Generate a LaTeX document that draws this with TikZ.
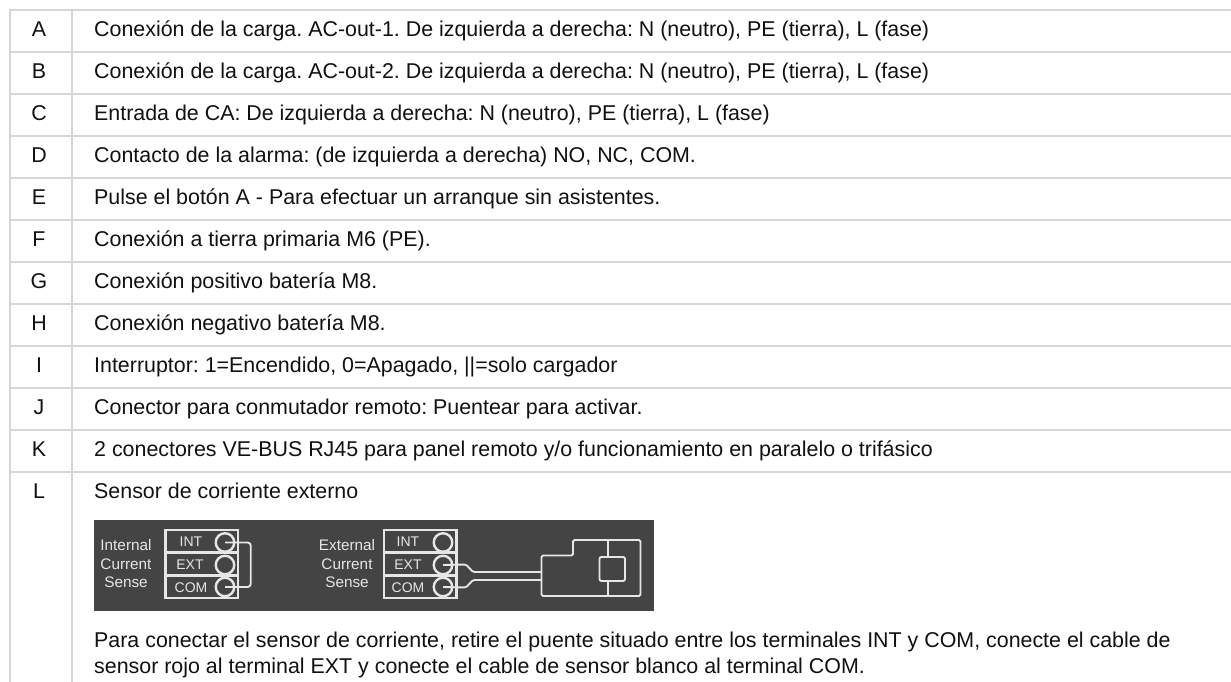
\documentclass[tikz,border=0pt]{standalone}
\usepackage{fontspec}
\setmainfont{Liberation Sans}
\definecolor{rule}{HTML}{D6D6D6}
\definecolor{panel}{HTML}{444444}
\definecolor{ink}{HTML}{E6E6E6}
\definecolor{txt}{HTML}{111111}
\tikzset{
  gridline/.style={draw=rule,line width=2pt},
  keylabel/.style={anchor=base,inner sep=0pt,text=txt,font=\fontsize{21.4}{25}\selectfont},
  rowtext/.style={anchor=base west,inner sep=0pt,text=txt,font=\fontsize{21.4}{25}\selectfont\frenchspacing},
  wire/.style={draw=ink,line width=1.9pt,line join=round,rounded corners=1.5pt},
  frame/.style={draw=ink,line width=2.8pt},
  term/.style={draw=ink,line width=2.4pt,circle,minimum size=18.5pt,inner sep=0pt},
  tlabel/.style={text=ink,inner sep=0pt,anchor=base,font=\fontsize{14}{15}\selectfont},
  sidelabel/.style={text=ink,inner sep=0pt,anchor=base,font=\fontsize{15.3}{17}\selectfont}
}
\begin{document}
\begin{tikzpicture}[x=1pt,y=-1pt]
\useasboundingbox (0,0) rectangle (1231,682);
\fill[white] (0,0) rectangle (1231,682);
% table grid
\foreach \y in {10,52,94,136,178,220,262,304,346,388,430,472}
  \draw[gridline] (9,\y) -- (1231,\y);
\draw[gridline] (9.5,9) -- (9.5,682);
\draw[gridline] (71.5,9) -- (71.5,682);
% rows
\foreach \k/\t [count=\i from 0] in {
 A/{Conexión de la carga. AC-out-1. De izquierda a derecha: N (neutro), PE (tierra), L (fase)},
 B/{Conexión de la carga. AC-out-2. De izquierda a derecha: N (neutro), PE (tierra), L (fase)},
 C/{Entrada de CA: De izquierda a derecha: N (neutro), PE (tierra), L (fase)},
 D/{Contacto de la alarma: (de izquierda a derecha) NO, NC, COM.},
 E/{Pulse el botón A - Para efectuar un arranque sin asistentes.},
 F/{Conexión a tierra primaria M6 (PE).},
 G/{Conexión positivo batería M8.},
 H/{Conexión negativo batería M8.},
 I/{Interruptor: 1=Encendido, 0=Apagado, ||=solo cargador},
 J/{Conector para conmutador remoto: Puentear para activar.},
 K/{2 conectores VE-BUS RJ45 para panel remoto y/o funcionamiento en paralelo o trifásico},
 L/{Sensor de corriente externo}} {
  \node[keylabel] (key\k) at (39,36.5+42*\i) {\k};
  \node[rowtext] (row\k) at (94,36.5+42*\i) {\t};
}
\node[rowtext] (paraA) at (94,647.5) {Para conectar el sensor de corriente, retire el puente situado entre los terminales INT y COM, conecte el cable de};
\node[rowtext] (paraB) at (94,673) {sensor rojo al terminal EXT y conecte el cable de sensor blanco al terminal COM.};
% panel
\fill[panel] (94,520) rectangle (654,610.5);
% left terminal block
\draw[frame] (165.2,530) rectangle (238,598);
\draw[frame] (165.2,552.7) -- (238,552.7);
\draw[frame] (165.2,575.5) -- (238,575.5);
\node[term] (i1) at (225,542.5) {};
\node[term] (i2) at (225,565) {};
\node[term] (i3) at (225,587) {};
\draw[wire,rounded corners=3pt] (i1.center) -- (250.7,542.5) -- (250.7,587) -- (i3.center);
\node[tlabel] (iINT) at (191,546.5) {INT};
\node[tlabel] (iEXT) at (190,569.5) {EXT};
\node[tlabel] (iCOM) at (191,592) {COM};
\node[sidelabel] (lInt) at (126,550) {Internal};
\node[sidelabel] (lCur) at (126,569) {Current};
\node[sidelabel] (lSen) at (126,587.7) {Sense};
% right terminal block
\draw[frame] (384,530) rectangle (456.5,598);
\draw[frame] (384,552.7) -- (456.5,552.7);
\draw[frame] (384,575.5) -- (456.5,575.5);
\node[term] (e1) at (443,542.5) {};
\node[term] (e2) at (443,565) {};
\node[term] (e3) at (443,587) {};
\node[tlabel] (eINT) at (408,546.5) {INT};
\node[tlabel] (eEXT) at (408,569.5) {EXT};
\node[tlabel] (eCOM) at (408,592) {COM};
\node[sidelabel] (rExt) at (347,550) {External};
\node[sidelabel] (rCur) at (347,569) {Current};
\node[sidelabel] (rSen) at (347,587.7) {Sense};
% sensor
\coordinate (s1) at (541.5,572);
\coordinate (s2) at (541.5,580);
\draw[wire] (e2.center) -- (466,564.5) -- (473,572) -- (s1);
\draw[wire] (e3.center) -- (466,587.5) -- (473,580) -- (s2);
\draw[wire] (541.5,555.5) -- (573,555.5) -- (573,540) -- (640.5,540) -- (640.5,596) -- (541.5,596) -- cycle;
\draw[wire] (608,540) -- (608,596);
\draw[wire,fill=panel,rounded corners=2pt] (599.5,557) rectangle (625,581);
\end{tikzpicture}
\end{document}
